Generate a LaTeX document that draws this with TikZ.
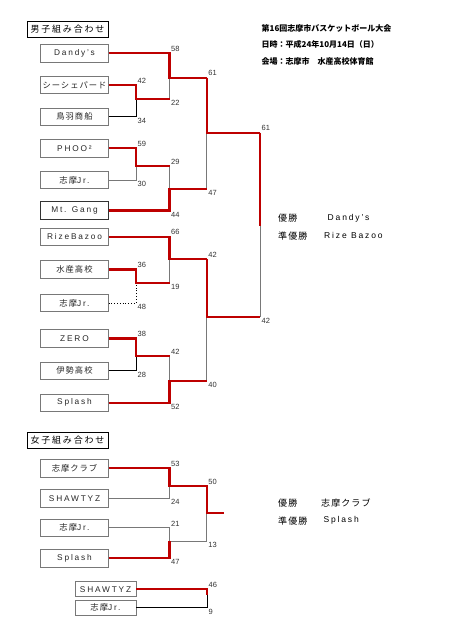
\documentclass[tikz,border=0pt]{standalone}
\usepackage{fontspec}
\setmainfont{Liberation Sans}[LetterSpace=22]
\newfontfamily\lat{Liberation Sans}
\newfontfamily\jp{Noto Sans CJK JP}[LetterSpace=12]
\newfontfamily\jpt{Noto Sans CJK JP}[LetterSpace=20]
\newfontfamily\jph{Noto Sans CJK JP}
\definecolor{redc}{RGB}{190,0,0}
\definecolor{grayl}{RGB}{120,120,120}
\tikzset{
  team/.style={draw=grayl, line width=0.7pt, minimum width=67.5pt, minimum height=17.5pt, inner sep=0pt, text=black!85, font=\fontsize{8.3}{10}\selectfont},
  teamsm/.style={team, minimum width=61pt, minimum height=15pt},
  titlebox/.style={draw=black, line width=0.8pt, minimum width=81pt, minimum height=15.5pt, inner sep=0pt, font=\fontsize{9}{10}\jpt},
  win/.style={draw=redc, line width=2.3pt, line join=miter},
  lose/.style={draw=grayl, line width=0.8pt},
  loseb/.style={draw=black, line width=0.8pt},
  losedot/.style={draw=black, line width=0.8pt, dotted},
  score/.style={font=\fontsize{7.5}{9}\lat, inner sep=0pt, text=black!80},
  sctop/.style={score, anchor=south west, xshift=1.5pt, yshift=1.5pt},
  scbot/.style={score, anchor=north west, xshift=1.5pt, yshift=-1.2pt},
  head/.style={anchor=west, inner sep=0pt, font=\fontsize{8}{10}\jph\bfseries},
  lab/.style={anchor=west, inner sep=0pt, font=\fontsize{9}{10}\jp},
  labl/.style={anchor=west, inner sep=0pt, font=\fontsize{8.5}{10}\selectfont}
}
\begin{document}
\begin{tikzpicture}[x=1pt,y=-1pt]
\fill[white] (0,0) rectangle (451,640);
\useasboundingbox (0,0) rectangle (451,640);

% header
\node[head] (h1) at (261.5,28.3) {第16回志摩市バスケットボール大会};
\node[head] (h2) at (261.5,44.3) {日時：平成24年10月14日（日）};
\node[head] (h3) at (261.5,61.7) {会場：志摩市　水産高校体育館};

% titles
\node[titlebox] (tm) at (67.5,29.5) {男子組み合わせ};
\node[titlebox] (tw) at (67.5,440.3) {女子組み合わせ};

% men teams
\node[team] (dandy) at (74.5,53.3) {Dandy's};
\node[team] (sea) at (74.5,85) {{\jp シーシェパード}};
\node[team] (toba) at (74.5,116.7) {{\jp 鳥羽商船}};
\node[team] (phoo) at (74.5,148.3) {PHOO²};
\node[team] (jr1) at (74.5,180) {{\jp 志摩}Jr.};
\node[team, draw=black!80] (mt) at (74.5,210.5) {Mt. Gang};
\node[team] (rize) at (74.5,236.7) {RizeBazoo};
\node[team] (sui) at (74.5,269.5) {{\jp 水産高校}};
\node[team] (jr2) at (74.5,303) {{\jp 志摩}Jr.};
\node[team] (zero) at (74.5,338.5) {ZERO};
\node[team] (ise) at (74.5,370.7) {{\jp 伊勢高校}};
\node[team] (spl) at (74.5,402.7) {Splash};

% match points
\coordinate (m1) at (136,99.3);
\coordinate (m2) at (136,166);
\coordinate (m3) at (136,283.3);
\coordinate (m4) at (136,356);
\coordinate (r1) at (169.5,77.7);
\coordinate (r2) at (169.5,189.3);
\coordinate (r3) at (169.5,259);
\coordinate (r4) at (169.5,380.7);
\coordinate (s1) at (206.7,132.7);
\coordinate (s2) at (206.7,317.3);
\coordinate (f) at (260,225.7);

% losers / gray
\draw[loseb] (toba.east) -| (m1);
\draw[lose] (jr1.east) -| (m2);
\draw[losedot] (jr2.east) -| (m3);
\draw[loseb] (ise.east) -| (m4);
\draw[lose] (m1 -| r1) -- (r1);
\draw[lose] (m2 -| r2) -- (r2);
\draw[lose] (m3 -| r3) -- (r3);
\draw[lose] (m4 -| r4) -- (r4);
\draw[lose] (s1) -- (r2 -| s1);
\draw[lose] (s2) -- (r4 -| s2);
\draw[lose] (f) -- (s2 -| f);

% winners / red
\draw[win] (sea.east) -| (m1) -- (m1 -| r1);
\draw[win] (phoo.east) -| (m2) -- (m2 -| r2);
\draw[win] (sui.east) -| (m3) -- (m3 -| r3);
\draw[win] (zero.east) -| (m4) -- (m4 -| r4);
\draw[win] (dandy.east) -| (r1) -- (r1 -| s1);
\draw[win] (mt.east) -| (r2) -- (r2 -| s1);
\draw[win] (rize.east) -| (r3) -- (r3 -| s2);
\draw[win] (spl.east) -| (r4) -- (r4 -| s2);
\draw[win] (r1 -| s1) -- (s1) -- (s1 -| f);
\draw[win] (r3 -| s2) -- (s2) -- (s2 -| f);
\draw[win] (s1 -| f) -- (f);

% men scores
\node[sctop] (c1) at (sea.east -| m1) {42};
\node[scbot] (c2) at (toba.east -| m1) {34};
\node[sctop] (c3) at (phoo.east -| m2) {59};
\node[scbot] (c4) at (jr1.east -| m2) {30};
\node[sctop] (c5) at (sui.east -| m3) {36};
\node[scbot] (c6) at (jr2.east -| m3) {48};
\node[sctop] (c7) at (zero.east -| m4) {38};
\node[scbot] (c8) at (ise.east -| m4) {28};
\node[sctop] (c9) at (dandy.east -| r1) {58};
\node[scbot] (c10) at (m1 -| r1) {22};
\node[sctop] (c11) at (m2 -| r2) {29};
\node[scbot] (c12) at (mt.east -| r2) {44};
\node[sctop] (c13) at (rize.east -| r3) {66};
\node[scbot] (c14) at (m3 -| r3) {19};
\node[sctop] (c15) at (m4 -| r4) {42};
\node[scbot] (c16) at (spl.east -| r4) {52};
\node[sctop] (c17) at (r1 -| s1) {61};
\node[scbot] (c18) at (r2 -| s1) {47};
\node[sctop] (c19) at (r3 -| s2) {42};
\node[scbot] (c20) at (r4 -| s2) {40};
\node[sctop] (c21) at (s1 -| f) {61};
\node[scbot] (c22) at (s2 -| f) {42};

% men results
\node[lab] (w1) at (278,218.3) {優勝};
\node[labl] (w1n) at (327.5,218.3) {Dandy's};
\node[lab] (w2) at (278,235.7) {準優勝};
\node[labl] (w2n) at (324,235.7) {Rize Bazoo};

% women teams
\node[team] (club) at (74.5,468.3) {{\jp 志摩クラブ}};
\node[team] (shaw) at (74.5,498.3) {SHAWTYZ};
\node[team] (wjr) at (74.5,527.7) {{\jp 志摩}Jr.};
\node[team] (wspl) at (74.5,558.3) {Splash};

\coordinate (w1p) at (169.5,486);
\coordinate (w2p) at (169.5,541);
\coordinate (wf) at (206.7,513.3);
\coordinate (wend) at (224,513.3);

\draw[lose] (shaw.east) -| (w1p);
\draw[lose] (wjr.east) -| (w2p) -- (w2p -| wf) -- (wf);
\draw[win] (club.east) -| (w1p) -- (w1p -| wf) -- (wf) -- (wend);
\draw[win] (wspl.east) -| (w2p);

\node[sctop] (d1) at (club.east -| w1p) {53};
\node[scbot] (d2) at (shaw.east -| w1p) {24};
\node[sctop] (d3) at (wjr.east -| w2p) {21};
\node[scbot] (d4) at (wspl.east -| w2p) {47};
\node[sctop] (d5) at (w1p -| wf) {50};
\node[scbot] (d6) at (w2p -| wf) {13};

% extra pair
\node[teamsm] (shaw2) at (105.5,589.3) {SHAWTYZ};
\node[teamsm] (jr3) at (105.5,607.8) {{\jp 志摩}Jr.};
\coordinate (bp) at (207,595);
\draw[loseb] (jr3.east) -| (bp);
\draw[win] (shaw2.east) -| (bp);
\node[sctop] (e1) at (shaw2.east -| bp) {46};
\node[scbot] (e2) at (jr3.east -| bp) {9};

% women results
\node[lab] (v1) at (278,503.3) {優勝};
\node[lab] (v1n) at (321,503.3) {志摩クラブ};
\node[lab] (v2) at (278,520.7) {準優勝};
\node[labl] (v2n) at (323.3,520.7) {Splash};
\end{tikzpicture}
\end{document}
